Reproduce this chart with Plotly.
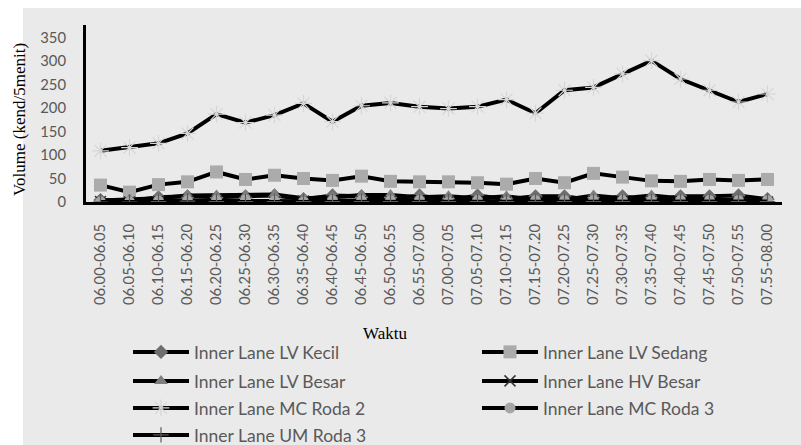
import plotly.graph_objects as go

categories = ["06.00-06.05", "06.05-06.10", "06.10-06.15", "06.15-06.20", "06.20-06.25",
              "06.25-06.30", "06.30-06.35", "06.35-06.40", "06.40-06.45", "06.45-06.50",
              "06.50-06.55", "06.55-07.00", "07.00-07.05", "07.05-07.10", "07.10-07.15",
              "07.15-07.20", "07.20-07.25", "07.25-07.30", "07.30-07.35", "07.35-07.40",
              "07.40-07.45", "07.45-07.50", "07.50-07.55", "07.55-08.00"]

lv_kecil = [4, 2, 10, 12, 10, 12, 14, 6, 14, 12, 6, 14, 4, 14, 6, 12, 12, 3, 12, 3, 12, 12, 14, 6]
lv_sedang = [36, 21, 37, 43, 64, 48, 57, 50, 46, 55, 44, 43, 43, 41, 38, 50, 41, 61, 53, 45, 44, 48, 46, 48]
lv_besar = [3, 5, 8, 14, 14, 14, 16, 8, 10, 15, 15, 10, 12, 8, 12, 5, 5, 14, 8, 14, 8, 5, 5, 3]
hv_besar = [1, 0, 1, 2, 2, 0, 0, 2, 0, 2, 2, 0, 2, 0, 2, 0, 0, 3, 0, 3, 0, 0, 0, 0]
mc_roda2 = [109, 116, 125, 146, 187, 169, 185, 210, 171, 205, 211, 203, 199, 203, 218, 189,
            238, 244, 273, 301, 262, 238, 213, 230]
mc_roda3 = [0, 0, 2, 3, 3, 4, 2, 0, 3, 3, 3, 3, 0, 3, 0, 3, 3, 3, 3, 3, 3, 3, 3, 3]
um_roda3 = [0, 0, 1, 2, 1, 1, 1, 1, 1, 1, 1, 1, 1, 1, 1, 1, 1, 1, 1, 1, 1, 1, 1, 1]

y_ticks = [0, 50, 100, 150, 200, 250, 300, 350]

# (name, values, marker, legend id, column)
series = [
    ("Inner Lane LV Kecil", lv_kecil, dict(symbol="diamond", size=11, color="#6E6E6E"), "legend", 0),
    ("Inner Lane LV Sedang", lv_sedang, dict(symbol="square", size=13, color="#ABABAB"), "legend", 1),
    ("Inner Lane LV Besar", lv_besar, dict(symbol="triangle-up", size=12, color="#7F7F7F"), "legend2", 0),
    ("Inner Lane HV Besar", hv_besar, dict(symbol="x-thin-open", size=11, color="#333333",
                                           line=dict(width=1.5, color="#333333")), "legend2", 1),
    ("Inner Lane MC Roda 2", mc_roda2, dict(symbol="asterisk-open", size=14, color="#D6D6D6",
                                            line=dict(width=1.2, color="#D6D6D6")), "legend3", 0),
    ("Inner Lane MC Roda 3", mc_roda3, dict(symbol="circle", size=11, color="#A6A6A6"), "legend3", 1),
    ("Inner Lane UM Roda 3", um_roda3, dict(symbol="cross-thin-open", size=11, color="#5A5A5A",
                                            line=dict(width=1.2, color="#5A5A5A")), "legend4", 0),
]

fig = go.Figure()
for name, vals, mk, lg, col in series:
    fig.add_trace(go.Scatter(x=categories, y=vals, name=name, mode="lines+markers",
                             line=dict(color="black", width=4), marker=mk, legend=lg,
                             legendwidth=278 if col == 0 else 200))

L, R, T, B = 86, 19, 25, 243
W, H = 801, 445
pw, ph = W - L - R, H - T - B

def px(x):
    return (x - L) / pw

def py(y):
    return (H - B - y) / ph

legend_font = dict(family="Lato", size=17.5, color="#595959")

def make_legend(yc):
    return dict(orientation="h", xref="container", yref="container",
                x=128 / W, y=1 - yc / H, xanchor="left", yanchor="middle",
                font=legend_font, itemwidth=56, bgcolor="rgba(0,0,0,0)",
                traceorder="normal", borderwidth=0)

fig.update_layout(
    width=W, height=H,
    margin=dict(l=L, r=R, t=T, b=B, pad=0, autoexpand=False),
    paper_bgcolor="white",
    plot_bgcolor="rgba(0,0,0,0)",
    showlegend=True,
    legend=make_legend(352),
    legend2=make_legend(381),
    legend3=make_legend(408),
    legend4=make_legend(435),
    xaxis=dict(type="category", range=[-0.5, len(categories) - 0.5],
               tickangle=-90, tickfont=dict(family="Lato", size=14.8, color="#595959"),
               showgrid=False, zeroline=False, showline=True, linecolor="black", linewidth=3,
               ticks="", ticklabelstandoff=13),
    yaxis=dict(range=[0, 377], tickvals=y_ticks,
               tickfont=dict(family="Lato", size=14.8, color="#595959"),
               showgrid=False, zeroline=False, showline=True, linecolor="black", linewidth=3,
               ticks="", ticklabelstandoff=14),
    shapes=[dict(type="rect", xref="paper", yref="paper", x0=px(23), x1=px(801),
                 y0=py(445), y1=py(8), fillcolor="#EAEAEA", line=dict(width=0), layer="below")],
    annotations=[
        dict(text="Waktu", xref="paper", yref="paper", x=px(385), y=py(333),
             xanchor="center", yanchor="middle", showarrow=False,
             font=dict(family="Liberation Serif", size=17, color="black")),
        dict(text="Volume (kend/5menit)", xref="paper", yref="paper", x=px(19), y=py(120),
             xanchor="center", yanchor="middle", showarrow=False, textangle=-90,
             font=dict(family="Liberation Serif", size=17, color="black")),
    ],
)

fig.write_html("out.html", config={"displayModeBar": False},
               post_script="document.body.style.margin='0';document.body.style.overflow='hidden';")
